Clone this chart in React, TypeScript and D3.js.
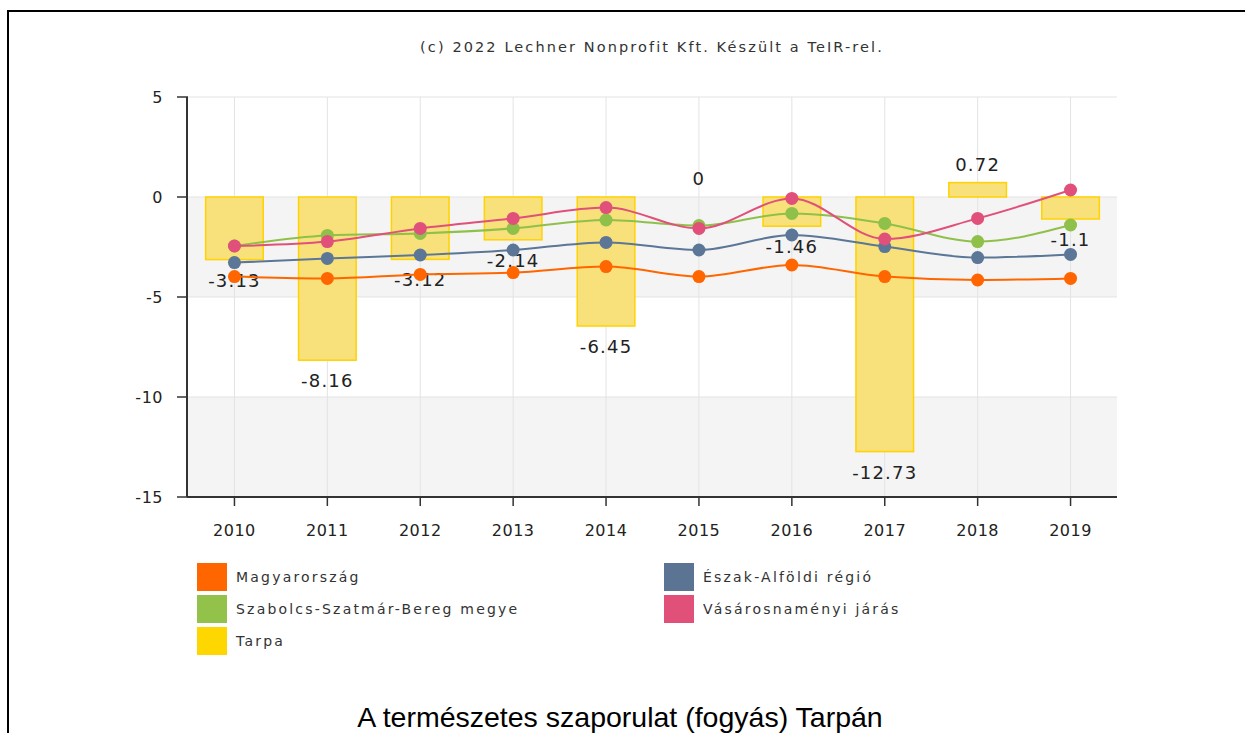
import * as d3 from 'd3'

const years = ['2010', '2011', '2012', '2013', '2014', '2015', '2016', '2017', '2018', '2019']
const magyarorszag = [-3.98, -4.07, -3.87, -3.78, -3.48, -3.98, -3.4, -3.98, -4.15, -4.07]
const eszakAlfold = [-3.28, -3.07, -2.9, -2.65, -2.27, -2.65, -1.9, -2.48, -3.03, -2.87]
const szabolcs = [-2.45, -1.92, -1.82, -1.57, -1.15, -1.43, -0.82, -1.32, -2.23, -1.4]
const vasarosnameny = [-2.45, -2.23, -1.57, -1.07, -0.53, -1.57, -0.07, -2.1, -1.07, 0.35]
const tarpa = [-3.13, -8.16, -3.12, -2.14, -6.45, 0, -1.46, -12.73, 0.72, -1.1]
const yTicks = [5, 0, -5, -10, -15]

const lineSeries = [
  { name: 'Magyarország', values: magyarorszag, color: '#ff6600' },
  { name: 'Észak-Alföldi régió', values: eszakAlfold, color: '#5b7696' },
  { name: 'Szabolcs-Szatmár-Bereg megye', values: szabolcs, color: '#8fc04a' },
  { name: 'Vásárosnaményi járás', values: vasarosnameny, color: '#e0507a' },
]
const legendItems = [
  { name: 'Magyarország', color: '#ff6600' },
  { name: 'Észak-Alföldi régió', color: '#5b7494' },
  { name: 'Szabolcs-Szatmár-Bereg megye', color: '#93c24a' },
  { name: 'Vásárosnaményi járás', color: '#e05078' },
  { name: 'Tarpa', color: '#ffd700' },
]

const font = 'DejaVu Sans, Verdana, sans-serif'

export default function App() {
  const left = 188
  const right = 1117
  const top = 97
  const bottom = 497

  const x = d3.scaleBand().domain(years).range([left, right])
  const y = d3.scaleLinear().domain([-15, 5]).range([bottom, top])
  const cx = (yr: string) => (x(yr) ?? 0) + x.bandwidth() / 2
  const barW = x.bandwidth() * 0.62

  const line = d3
    .line<number>()
    .x((_, i) => cx(years[i]))
    .y((d) => y(d))
    .curve(d3.curveMonotoneX)

  // alternating plot bands
  const bands = [
    [0, -5],
    [-10, -15],
  ]

  return (
    <svg
      width={1245}
      height={733}
      style={{ position: 'absolute', left: 0, top: 0, background: '#fff' }}
    >
      <rect x={8} y={11} width={1300} height={800} fill="none" stroke="#000" strokeWidth={2} />

      <text
        x={652}
        y={52}
        textAnchor="middle"
        fontFamily={font}
        fontSize={14.5}
        letterSpacing={2.1}
        fill="#333"
      >
        (c) 2022 Lechner Nonprofit Kft. Készült a TeIR-rel.
      </text>

      {bands.map(([a, b], i) => (
        <rect key={i} x={left} y={y(a)} width={right - left} height={y(b) - y(a)} fill="#f4f4f4" />
      ))}

      {yTicks.map((t) => (
        <line key={t} x1={left} x2={right} y1={y(t)} y2={y(t)} stroke="#e3e3e3" strokeWidth={1} />
      ))}
      {years.map((yr) => (
        <line key={yr} x1={cx(yr)} x2={cx(yr)} y1={top} y2={bottom} stroke="#e3e3e3" strokeWidth={1} />
      ))}

      {tarpa.map((v, i) => (
        <rect
          key={years[i]}
          x={cx(years[i]) - barW / 2}
          y={y(Math.max(0, v))}
          width={barW}
          height={Math.abs(y(v) - y(0))}
          fill="#f8e17a"
          stroke="#ffd200"
          strokeWidth={1.5}
        />
      ))}

      {tarpa.map((v, i) => (
        <text
          key={years[i]}
          x={cx(years[i])}
          y={v < 0 ? y(v) + 27 : y(v) - 12}
          textAnchor="middle"
          fontFamily={font}
          fontSize={18}
          letterSpacing={1.2}
          fill="#222"
        >
          {v}
        </text>
      ))}

      {lineSeries.map((s) => (
        <g key={s.name}>
          <path d={line(s.values) ?? ''} fill="none" stroke={s.color} strokeWidth={2} />
          {s.values.map((v, i) => (
            <circle key={i} cx={cx(years[i])} cy={y(v)} r={6.5} fill={s.color} />
          ))}
        </g>
      ))}

      {/* axes */}
      <line x1={left - 1} x2={left - 1} y1={top} y2={bottom} stroke="#333" strokeWidth={2} />
      <line x1={left - 1} x2={right} y1={bottom} y2={bottom} stroke="#333" strokeWidth={2} />
      {yTicks.map((t) => (
        <g key={t}>
          <line x1={left - 11} x2={left} y1={y(t)} y2={y(t)} stroke="#333" strokeWidth={1.5} />
          <text
            x={163}
            y={y(t) + 6}
            textAnchor="end"
            fontFamily={font}
            fontSize={16}
            letterSpacing={0.5}
            fill="#222"
          >
            {t}
          </text>
        </g>
      ))}
      {years.map((yr) => (
        <g key={yr}>
          <line x1={cx(yr)} x2={cx(yr)} y1={bottom} y2={bottom + 9} stroke="#333" strokeWidth={1.5} />
          <text
            x={cx(yr)}
            y={536}
            textAnchor="middle"
            fontFamily={font}
            fontSize={16}
            letterSpacing={0.5}
            fill="#222"
          >
            {yr}
          </text>
        </g>
      ))}

      {legendItems.map((d, i) => {
        const col = i % 2
        const row = Math.floor(i / 2)
        const lx = col === 0 ? 197 : 664
        const ly = 563 + row * 32
        return (
          <g key={d.name}>
            <rect x={lx} y={ly} width={30} height={28} fill={d.color} />
            <text
              x={lx + 39}
              y={ly + 19}
              fontFamily={font}
              fontSize={14}
              letterSpacing={2.2}
              fill="#333"
            >
              {d.name}
            </text>
          </g>
        )
      })}

      <text
        x={620}
        y={727}
        textAnchor="middle"
        fontFamily="Liberation Sans, Arial, sans-serif"
        fontSize={28.5}
        fill="#000"
      >
        A természetes szaporulat (fogyás) Tarpán
      </text>
    </svg>
  )
}
